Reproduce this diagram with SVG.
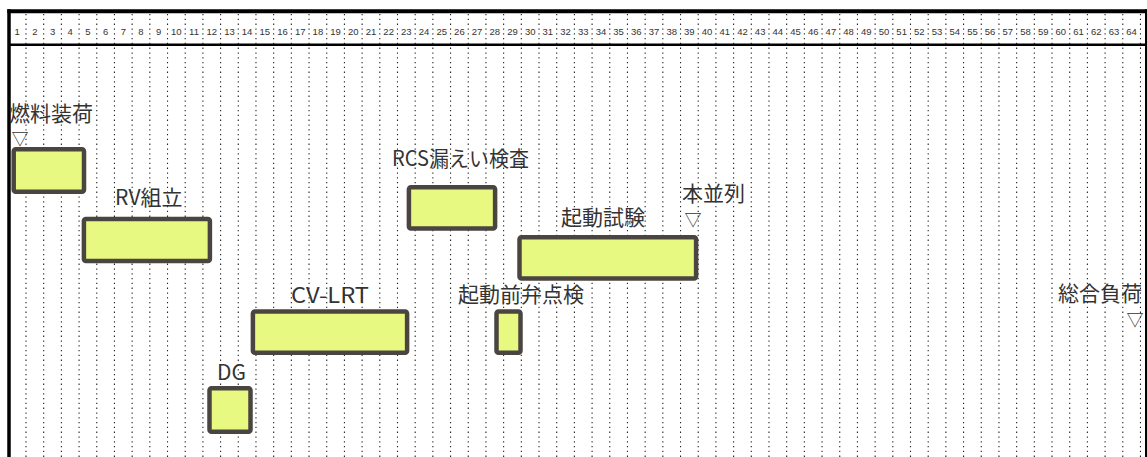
<svg xmlns="http://www.w3.org/2000/svg" width="1147" height="457" viewBox="0 0 1147 457">
<style>
.num{font-family:"Liberation Sans","DejaVu Sans",sans-serif;font-size:9.5px;fill:#333;text-anchor:middle}
.lbl{font-family:"Noto Sans CJK JP","Noto Sans",sans-serif;font-size:21px;fill:#333}
.mk{font-family:"Noto Sans CJK JP","DejaVu Sans",sans-serif;font-size:17px;fill:#333}
.bar{fill:#e8f982;stroke:#4b4542;stroke-width:4.5}
.grid{stroke:#222;stroke-width:1.1;stroke-dasharray:1.3 3.5;fill:none}
</style>
<rect x="0" y="0" width="1147" height="457" fill="#fff"/>
<g id="grid">
<path class="grid" d="M26 14V457M43.69 14V457M61.38 14V457M79.07 14V457M96.76 14V457M114.45 14V457M132.14 14V457M149.83 14V457M167.52 14V457M185.21 14V457M202.9 14V457M220.59 14V457M238.28 14V457M255.97 14V457M273.66 14V457M291.35 14V457M309.04 14V457M326.73 14V457M344.42 14V457M362.11 14V457M379.8 14V457M397.49 14V457M415.18 14V457M432.87 14V457M450.56 14V457M468.25 14V457M485.94 14V457M503.63 14V457M521.32 14V457M539.01 14V457M556.7 14V457M574.39 14V457M592.08 14V457M609.77 14V457M627.46 14V457M645.15 14V457M662.84 14V457M680.53 14V457M698.22 14V457M715.91 14V457M733.6 14V457M751.29 14V457M768.98 14V457M786.67 14V457M804.36 14V457M822.05 14V457M839.74 14V457M857.43 14V457M875.12 14V457M892.81 14V457M910.5 14V457M928.19 14V457M945.88 14V457M963.57 14V457M981.26 14V457M998.95 14V457M1016.64 14V457M1034.33 14V457M1052.02 14V457M1069.71 14V457M1087.4 14V457M1105.09 14V457M1122.78 14V457M1140.47 14V457"/>
</g>
<g id="header">
<text class="num" x="17.16" y="35">1</text><text class="num" x="34.85" y="35">2</text><text class="num" x="52.54" y="35">3</text><text class="num" x="70.23" y="35">4</text><text class="num" x="87.92" y="35">5</text><text class="num" x="105.61" y="35">6</text><text class="num" x="123.3" y="35">7</text><text class="num" x="140.99" y="35">8</text><text class="num" x="158.68" y="35">9</text><text class="num" x="176.37" y="35">10</text><text class="num" x="194.06" y="35">11</text><text class="num" x="211.75" y="35">12</text><text class="num" x="229.44" y="35">13</text><text class="num" x="247.13" y="35">14</text><text class="num" x="264.82" y="35">15</text><text class="num" x="282.51" y="35">16</text><text class="num" x="300.2" y="35">17</text><text class="num" x="317.89" y="35">18</text><text class="num" x="335.58" y="35">19</text><text class="num" x="353.27" y="35">20</text><text class="num" x="370.96" y="35">21</text><text class="num" x="388.65" y="35">22</text><text class="num" x="406.34" y="35">23</text><text class="num" x="424.03" y="35">24</text><text class="num" x="441.72" y="35">25</text><text class="num" x="459.41" y="35">26</text><text class="num" x="477.1" y="35">27</text><text class="num" x="494.79" y="35">28</text><text class="num" x="512.48" y="35">29</text><text class="num" x="530.17" y="35">30</text><text class="num" x="547.86" y="35">31</text><text class="num" x="565.55" y="35">32</text><text class="num" x="583.24" y="35">33</text><text class="num" x="600.93" y="35">34</text><text class="num" x="618.62" y="35">35</text><text class="num" x="636.31" y="35">36</text><text class="num" x="654" y="35">37</text><text class="num" x="671.69" y="35">38</text><text class="num" x="689.38" y="35">39</text><text class="num" x="707.07" y="35">40</text><text class="num" x="724.76" y="35">41</text><text class="num" x="742.45" y="35">42</text><text class="num" x="760.14" y="35">43</text><text class="num" x="777.83" y="35">44</text><text class="num" x="795.52" y="35">45</text><text class="num" x="813.21" y="35">46</text><text class="num" x="830.9" y="35">47</text><text class="num" x="848.59" y="35">48</text><text class="num" x="866.28" y="35">49</text><text class="num" x="883.97" y="35">50</text><text class="num" x="901.66" y="35">51</text><text class="num" x="919.35" y="35">52</text><text class="num" x="937.04" y="35">53</text><text class="num" x="954.73" y="35">54</text><text class="num" x="972.42" y="35">55</text><text class="num" x="990.11" y="35">56</text><text class="num" x="1007.8" y="35">57</text><text class="num" x="1025.49" y="35">58</text><text class="num" x="1043.18" y="35">59</text><text class="num" x="1060.87" y="35">60</text><text class="num" x="1078.56" y="35">61</text><text class="num" x="1096.25" y="35">62</text><text class="num" x="1113.94" y="35">63</text><text class="num" x="1131.63" y="35">64</text>
</g>
<g id="frame" stroke="#000" fill="none">
<path d="M7.3 11.3H1147" stroke-width="4"/>
<path d="M9 9.3V457" stroke-width="3.5"/>
<path d="M1146 9.3V457" stroke-width="2"/>
<path d="M9 44.7H1146" stroke-width="2.5"/>
</g>
<g id="m-fuel">
<text class="lbl" x="9" y="121">燃料装荷</text>
<text class="mk" x="11.5" y="145">▽</text>
</g>
<g id="t-fuel"><rect class="bar" x="13.7" y="149.2" width="70.3" height="42.6" rx="2"/></g>
<g id="t-rv">
<text class="lbl" x="115" y="205">RV組立</text>
<rect class="bar" x="83.9" y="218.9" width="126" height="42" rx="2"/>
</g>
<g id="t-rcs">
<text class="lbl" x="392" y="166" textLength="137" lengthAdjust="spacingAndGlyphs">RCS漏えい検査</text>
<rect class="bar" x="408.9" y="187.2" width="86.2" height="41.3" rx="2"/>
</g>
<g id="m-par">
<text class="lbl" x="682" y="201">本並列</text>
<text class="mk" x="684.5" y="226">▽</text>
</g>
<g id="t-start">
<text class="lbl" x="561" y="225">起動試験</text>
<rect class="bar" x="519.5" y="237.2" width="176.6" height="41.3" rx="2"/>
</g>
<g id="t-cv">
<text class="lbl" x="291" y="303" textLength="78" lengthAdjust="spacingAndGlyphs">CV-LRT</text>
<rect class="bar" x="252.9" y="311.5" width="154.2" height="41.3" rx="2"/>
</g>
<g id="t-valve">
<text class="lbl" x="458" y="302">起動前弁点検</text>
<rect class="bar" x="496.5" y="311.5" width="24" height="41.3" rx="2"/>
</g>
<g id="t-dg">
<text class="lbl" x="217" y="380">DG</text>
<rect class="bar" x="209.5" y="388.2" width="41" height="43.6" rx="2"/>
</g>
<g id="m-load">
<text class="lbl" x="1142" y="301" text-anchor="end">総合負荷</text>
<text class="mk" x="1126.5" y="326">▽</text>
</g>
<g id="connectors"/>
</svg>
